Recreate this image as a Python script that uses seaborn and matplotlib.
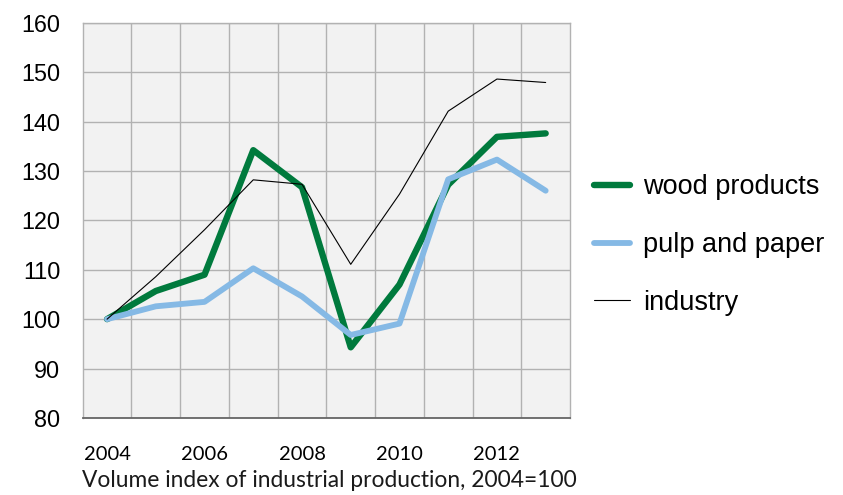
import numpy as np
import pandas as pd
import seaborn as sns
import matplotlib
matplotlib.use("Agg")
import matplotlib.pyplot as plt

years = [2004, 2005, 2006, 2007, 2008, 2009, 2010, 2011, 2012, 2013]
wood_products = [100, 105.7, 109.0, 134.2, 126.7, 94.3, 107.0, 127.2, 136.9, 137.6]
pulp_and_paper = [100, 102.6, 103.5, 110.3, 104.6, 96.8, 99.1, 128.3, 132.3, 126.0]
industry = [100, 108.6, 118.1, 128.2, 127.3, 111.1, 125.3, 142.1, 148.6, 147.9]
year_labels = ["2004", "", "2006", "", "2008", "", "2010", "", "2012", ""]

sns.set_style("white")

df = pd.DataFrame({
    "pos": np.arange(len(years)),
    "wood products": wood_products,
    "pulp and paper": pulp_and_paper,
    "industry": industry,
})

fig = plt.figure(figsize=(8.43, 4.95), dpi=100)
ax = fig.add_axes([0.0981, 0.1556, 0.5781, 0.7985])
ax.set_facecolor("#f2f2f2")

sns.lineplot(data=df, x="pos", y="wood products", ax=ax, color="#007a3d",
             linewidth=4.6, label="wood products")
sns.lineplot(data=df, x="pos", y="pulp and paper", ax=ax, color="#85b9e5",
             linewidth=4.2, label="pulp and paper")
sns.lineplot(data=df, x="pos", y="industry", ax=ax, color="black",
             linewidth=0.8, label="industry")

ax.set_xlim(-0.5, len(years) - 0.5)
ax.set_ylim(80, 160)
ax.set_yticks(range(80, 161, 10))
ax.set_xticks(range(len(years)))
ax.set_xticklabels(year_labels, fontfamily="Lato", fontsize=14.5, color="black")
ax.set_xticks(np.arange(0.5, len(years) - 1, 1), minor=True)
for lab in ax.get_yticklabels():
    lab.set_fontfamily("Liberation Sans")
    lab.set_fontsize(16.8)
    lab.set_color("black")

ax.grid(False)
ax.grid(True, which="minor", axis="x", color="#b2b2b2", linewidth=1.0)
ax.grid(True, which="major", axis="y", color="#b2b2b2", linewidth=1.0)
ax.tick_params(axis="both", which="both", length=0)
ax.tick_params(axis="y", pad=16)
ax.tick_params(axis="x", pad=20)
ax.set_xlabel("")
ax.set_ylabel("")

for side in ["top", "right", "left"]:
    ax.spines[side].set_color("#b2b2b2")
    ax.spines[side].set_linewidth(1.0)
ax.spines["bottom"].set_color("#666666")
ax.spines["bottom"].set_linewidth(1.3)

handles, labels = ax.get_legend_handles_labels()
ax.legend_.remove()
leg = fig.legend(handles, labels, loc="center left", bbox_to_anchor=(0.7046, 0.505),
                 frameon=False, prop={"family": "Liberation Sans", "size": 19.5},
                 handlelength=1.33, handletextpad=0.48, labelspacing=1.17,
                 borderpad=0, borderaxespad=0)
for t in leg.get_texts():
    t.set_color("black")

fig.text(0.0973, 0.03, "Volume index of industrial production, 2004=100",
         fontfamily="Lato", fontsize=16.4, color="#1a1a1a", va="center", ha="left")

fig.savefig("out.png", dpi=100)
